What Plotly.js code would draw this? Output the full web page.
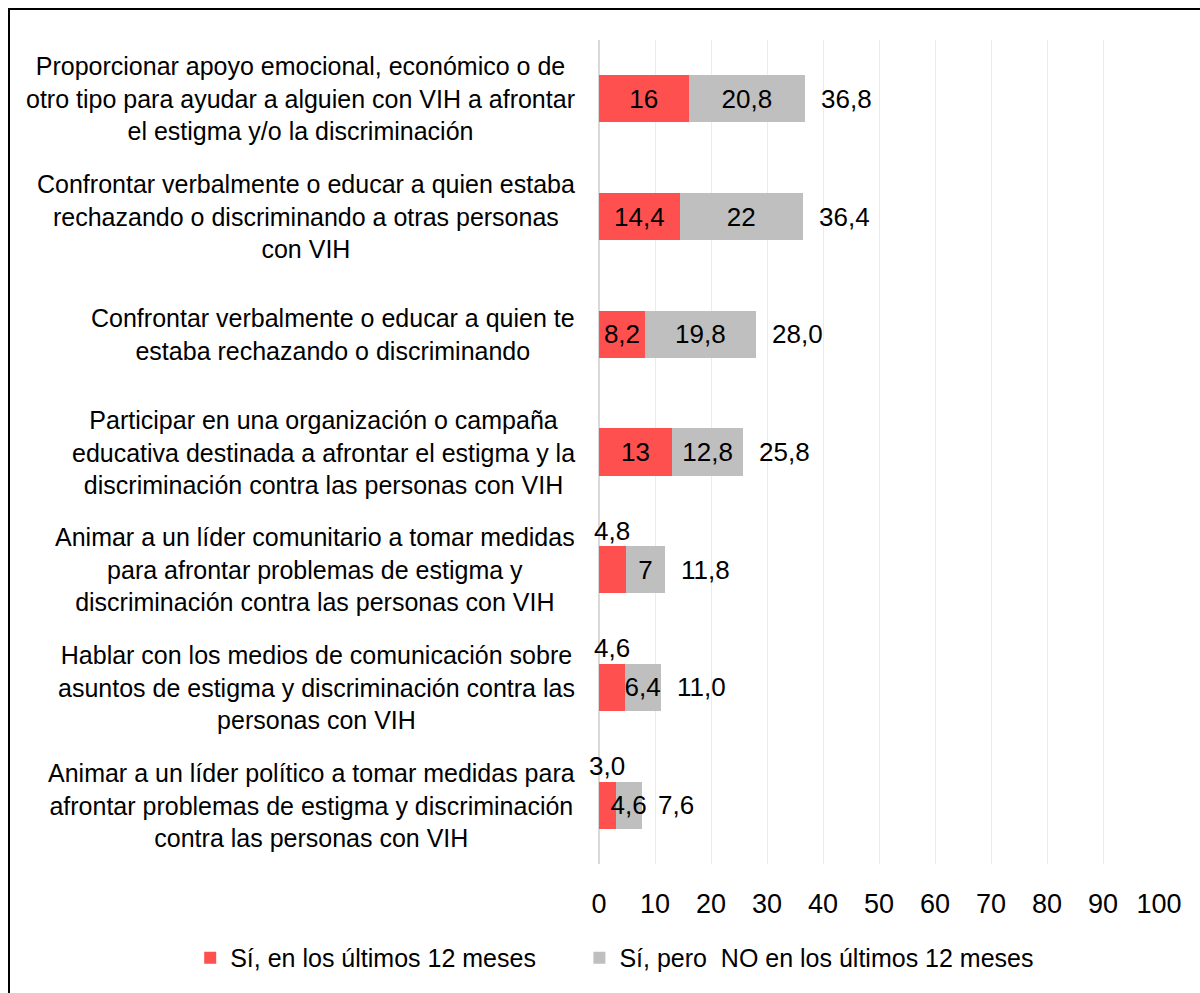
<!DOCTYPE html>
<html>
<head>
<meta charset="utf-8">
<script src="https://cdn.plot.ly/plotly-3.0.1.min.js"></script>
<style>
  html, body { margin: 0; padding: 0; background: #fff; }
  #chart { position: absolute; left: 0; top: 0; width: 1200px; height: 993px; }
  #frame { position: absolute; left: 8px; top: 8px; width: 1200px; height: 1000px; border: 2px solid #000; pointer-events: none; }
</style>
</head>
<body>
<div id="chart"></div>
<div id="frame"></div>
<script>
const categories = [
  "Proporcionar apoyo emocional, económico o de<br>otro tipo para ayudar a alguien con VIH a afrontar<br>el estigma y/o la discriminación",
  "Confrontar verbalmente o educar a quien estaba<br>rechazando o discriminando a otras personas<br>con VIH",
  "Confrontar verbalmente o educar a quien te<br>estaba rechazando o discriminando",
  "Participar en una organización o campaña<br>educativa destinada a afrontar el estigma y la<br>discriminación contra las personas con VIH",
  "Animar a un líder comunitario a tomar medidas<br>para afrontar problemas de estigma y<br>discriminación contra las personas con VIH",
  "Hablar con los medios de comunicación sobre<br>asuntos de estigma y discriminación contra las<br>personas con VIH",
  "Animar a un líder político a tomar medidas para<br>afrontar problemas de estigma y discriminación<br>contra las personas con VIH",
];

const lastYear = [16, 14.4, 8.2, 13, 4.8, 4.6, 3.0];
const notLastYear = [20.8, 22, 19.8, 12.8, 7, 6.4, 4.6];
const totals = [36.8, 36.4, 28.0, 25.8, 11.8, 11.0, 7.6];

const lastYearLabels = ["16", "14,4", "8,2", "13", "4,8", "4,6", "3,0"];
const notLastYearLabels = ["20,8", "22", "19,8", "12,8", "7", "6,4", "4,6"];
const totalLabels = ["36,8", "36,4", "28,0", "25,8", "11,8", "11,0", "7,6"];

const seriesNames = ["Sí, en los últimos 12 meses", "Sí, pero  NO en los últimos 12 meses"];
const xTicks = [0, 10, 20, 30, 40, 50, 60, 70, 80, 90, 100];

const font = "Liberation Sans, Arial, sans-serif";
const red = "#ff5050";
const gray = "#bfbfbf";

// labels that don't fit in the red segment sit above the bar
const smallRed = lastYear.map((v) => v < 6);

const traces = [
  {
    type: "bar",
    orientation: "h",
    name: seriesNames[0],
    legend: "legend",
    y: categories,
    x: lastYear,
    marker: { color: red },
    text: lastYearLabels.map((t, i) => smallRed[i] ? "" : t),
    textposition: "inside",
    insidetextanchor: "middle",
    textangle: 0,
    constraintext: "none",
    textfont: { family: font, size: 26, color: "#000" },
    hoverinfo: "skip",
  },
  {
    type: "bar",
    orientation: "h",
    name: seriesNames[1],
    legend: "legend2",
    y: categories,
    x: notLastYear,
    marker: { color: gray },
    text: notLastYearLabels,
    textposition: "inside",
    insidetextanchor: "middle",
    textangle: 0,
    constraintext: "none",
    textfont: { family: font, size: 26, color: "#000" },
    hoverinfo: "skip",
  },
];

const annotations = [];
categories.forEach((c, i) => {
  annotations.push({
    xref: "paper", yref: "y", x: -0.04, y: c,
    xanchor: "right", yanchor: "middle", align: "center",
    text: c, showarrow: false,
    font: { family: font, size: 25, color: "#000" },
  });
  annotations.push({
    xref: "x", yref: "y", x: totals[i], y: c,
    xanchor: "left", yanchor: "middle", xshift: 14,
    text: totalLabels[i], showarrow: false,
    font: { family: font, size: 26, color: "#000" },
  });
  if (smallRed[i]) {
    annotations.push({
      xref: "x", yref: "y", x: lastYear[i] / 2, y: c,
      xanchor: "center", yanchor: "middle", yshift: 39,
      text: lastYearLabels[i], showarrow: false,
      font: { family: font, size: 26, color: "#000" },
    });
  }
});

const legendBase = {
  orientation: "h",
  xanchor: "left",
  y: -0.114, yanchor: "middle",
  font: { family: font, size: 25, color: "#000" },
  itemwidth: 30,
  bgcolor: "rgba(0,0,0,0)",
};

const layout = {
  width: 1200,
  height: 993,
  margin: { l: 599, r: 41, t: 40, b: 127 },
  paper_bgcolor: "#fff",
  plot_bgcolor: "#fff",
  font: { family: font, color: "#000" },
  barmode: "stack",
  bargap: 0.6,
  showlegend: true,
  legend: { ...legendBase, x: -0.73 },
  legend2: { ...legendBase, x: -0.035 },
  xaxis: {
    range: [0, 100],
    tickvals: xTicks,
    ticktext: xTicks.map(String),
    tickfont: { family: font, size: 27, color: "#000" },
    ticks: "outside",
    ticklen: 16,
    tickcolor: "rgba(0,0,0,0)",
    showgrid: true,
    gridcolor: "#ebebeb",
    gridwidth: 1,
    zeroline: true,
    zerolinecolor: "#d9d9d9",
    zerolinewidth: 2,
    showline: false,
    fixedrange: true,
  },
  yaxis: {
    type: "category",
    autorange: "reversed",
    showticklabels: false,
    showgrid: false,
    zeroline: false,
    showline: false,
    ticks: "",
    fixedrange: true,
  },
  annotations,
};

Plotly.newPlot("chart", traces, layout, { displayModeBar: false, staticPlot: true });
</script>
</body>
</html>
